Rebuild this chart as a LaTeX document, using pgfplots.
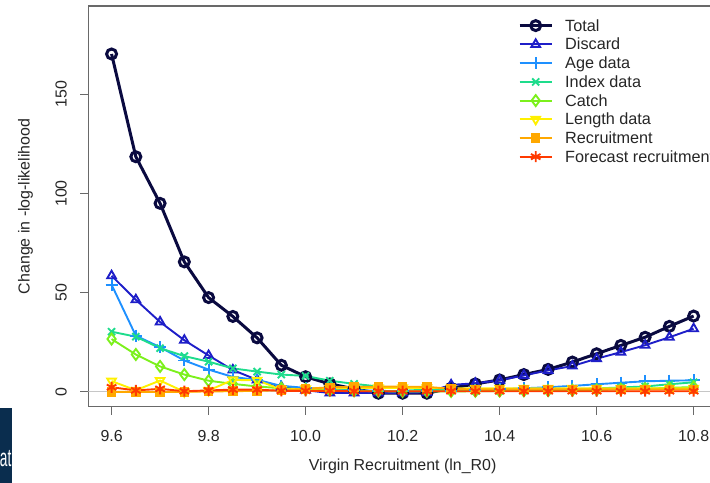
\documentclass[border=0pt]{standalone}
\usepackage{pgfplots}
\pgfplotsset{compat=1.18}
\usepackage{fontspec}
\setmainfont{Liberation Sans}
\definecolor{totalc}{RGB}{10,10,64}
\definecolor{discardc}{RGB}{30,30,200}
\definecolor{agec}{RGB}{30,144,255}
\definecolor{indexc}{RGB}{30,220,140}
\definecolor{catchc}{RGB}{124,240,28}
\definecolor{lengthc}{RGB}{255,240,0}
\definecolor{recc}{RGB}{255,168,0}
\definecolor{forec}{RGB}{255,58,0}
\definecolor{axisgray}{RGB}{105,105,105}
\definecolor{navybox}{RGB}{10,45,78}
\begin{document}
\begin{tikzpicture}[x=1bp,y=1bp]
\useasboundingbox (0,0) rectangle (710,483);
\clip (0,0) rectangle (710,483);
\fill[navybox] (0,0) rectangle (12,75);
\node[anchor=base east, inner sep=0pt, text=white, font=\fontsize{25}{25}\selectfont, xscale=0.55] at (11.5,16) {at};
\begin{axis}[
  at={(88.3bp,76.3bp)}, anchor=south west,
  scale only axis, width=628.6bp, height=400.7bp,
  xmin=9.552, xmax=10.848, ymin=-7.5, ymax=194.5,
  axis line style={draw=axisgray, line width=1.6bp},
  xtick={9.6,9.8,10.0,10.2,10.4,10.6,10.8},
  xticklabels={9.6,9.8,10.0,10.2,10.4,10.6,10.8},
  ytick={0,50,100,150},
  yticklabels={0,50,100,150},
  xtick pos=bottom, ytick pos=left,
  tick align=outside, major tick length=8bp,
  tick style={draw=axisgray, line width=1.3bp},
  tick label style={font=\fontsize{16}{19}\selectfont, text=black!85},
  xticklabel style={anchor=base, inner sep=0pt},
  yticklabel style={rotate=90, anchor=base, inner sep=0pt},
  xticklabel shift=27bp,
  yticklabel shift=13.6bp,
  xlabel={Virgin Recruitment (ln\_R0)},
  ylabel={Change in -log-likelihood},
  every axis x label/.style={at={(axis description cs:0.5,-0.158)}, anchor=base, font=\fontsize{16}{19}\selectfont, text=black!85},
  every axis y label/.style={at={(axis description cs:-0.0935,0.5)}, rotate=90, anchor=base, font=\fontsize{16}{19}\selectfont, text=black!85},
  legend style={draw=none, fill=none, at={(axis description cs:0.6836,0.966)}, anchor=north west,
    inner sep=0pt, row sep=4.4bp, font=\fontsize{16.3}{19}\selectfont,
    nodes={inner sep=0pt, text height=11.3bp, text depth=3bp, anchor=base west, text=black!85}},
  legend cell align=left,
  legend image code/.code={\draw[mark repeat=2,mark phase=2,#1] plot coordinates {(0bp,5.5bp) (16bp,5.5bp) (32bp,5.5bp)}; \path (0bp,5.5bp) (44bp,5.5bp);},
]
\addplot[gray!45, line width=1.2bp, forget plot] coordinates {(9.552,0) (10.848,0)};

\addplot[totalc, line width=3bp, mark=o, mark size=5bp] coordinates {
(9.6,170.3) (9.65,118.5) (9.7,95.0) (9.75,65.5) (9.8,47.5) (9.85,38.0) (9.9,27.2) (9.95,13.4) (10.0,7.6) (10.05,4.0) (10.1,1.5) (10.15,-0.7) (10.2,-0.7) (10.25,-0.7) (10.3,1.8) (10.35,4.0) (10.4,6.0) (10.45,8.7) (10.5,11.3) (10.55,15.0) (10.6,19.2) (10.65,23.4) (10.7,27.5) (10.75,33.0) (10.8,38.2)};
\addlegendentry{Total}

\addplot[discardc, line width=1.9bp, mark=triangle, mark size=5bp] coordinates {
(9.6,58.5) (9.65,46.4) (9.7,35.2) (9.75,26.0) (9.8,18.3) (9.85,11.0) (9.9,6.0) (9.95,2.5) (10.0,0.8) (10.05,-0.6) (10.1,-0.5) (10.15,-0.5) (10.2,-0.5) (10.25,-0.3) (10.3,3.5) (10.35,4.3) (10.4,5.8) (10.45,8.3) (10.5,10.8) (10.55,13.0) (10.6,16.7) (10.65,20.0) (10.7,23.5) (10.75,27.5) (10.8,31.8)};
\addlegendentry{Discard}

\addplot[agec, line width=1.9bp, mark=+, mark size=6bp] coordinates {
(9.6,54.0) (9.65,28.3) (9.7,22.5) (9.75,15.8) (9.8,11.2) (9.85,7.5) (9.9,6.0) (9.95,3.0) (10.0,2.0) (10.05,1.2) (10.1,0.8) (10.15,0.5) (10.2,0.3) (10.25,0.3) (10.3,0.5) (10.35,0.8) (10.4,1.3) (10.45,1.8) (10.5,2.3) (10.55,3.0) (10.6,3.8) (10.65,4.6) (10.7,5.3) (10.75,5.6) (10.8,5.8)};
\addlegendentry{Age data}

\addplot[indexc, line width=1.9bp, mark=x, mark size=5bp] coordinates {
(9.6,30.3) (9.65,27.8) (9.7,22.0) (9.75,18.0) (9.8,15.2) (9.85,11.8) (9.9,10.2) (9.95,8.7) (10.0,8.0) (10.05,5.6) (10.1,4.0) (10.15,2.7) (10.2,1.8) (10.25,1.2) (10.3,0.8) (10.35,0.6) (10.4,0.6) (10.45,0.7) (10.5,0.9) (10.55,1.3) (10.6,1.7) (10.65,2.2) (10.7,2.7) (10.75,3.8) (10.8,4.8)};
\addlegendentry{Index data}

\addplot[catchc, line width=1.9bp, mark=diamond, mark size=5.5bp] coordinates {
(9.6,26.6) (9.65,18.8) (9.7,12.8) (9.75,8.7) (9.8,5.6) (9.85,4.0) (9.9,2.7) (9.95,1.8) (10.0,1.2) (10.05,0.8) (10.1,0.5) (10.15,0.3) (10.2,0.2) (10.25,0.2) (10.3,0.2) (10.35,0.3) (10.4,0.4) (10.45,0.5) (10.5,0.6) (10.55,0.8) (10.6,1.0) (10.65,1.3) (10.7,1.6) (10.75,2.0) (10.8,2.4)};
\addlegendentry{Catch}

\addplot[lengthc, line width=1.9bp, mark=triangle, mark size=5bp, mark options={rotate=180}] coordinates {
(9.6,5.4) (9.65,0.8) (9.7,5.7) (9.75,0.0) (9.8,0.7) (9.85,6.0) (9.9,5.8) (9.95,1.2) (10.0,1.5) (10.05,1.8) (10.1,2.0) (10.15,2.0) (10.2,2.0) (10.25,2.0) (10.3,1.8) (10.35,1.8) (10.4,1.8) (10.45,1.8) (10.5,1.8) (10.55,1.8) (10.6,1.8) (10.65,1.8) (10.7,1.8) (10.75,1.8) (10.8,1.8)};
\addlegendentry{Length data}

\addplot[recc, line width=1.9bp, mark=square*, mark size=3.8bp] coordinates {
(9.6,0.0) (9.65,0.0) (9.7,0.0) (9.75,0.0) (9.8,0.2) (9.85,0.3) (9.9,0.5) (9.95,0.8) (10.0,1.5) (10.05,2.3) (10.1,2.5) (10.15,2.6) (10.2,2.6) (10.25,2.5) (10.3,1.5) (10.35,1.2) (10.4,1.2) (10.45,1.2) (10.5,1.2) (10.55,1.2) (10.6,1.2) (10.65,1.2) (10.7,1.2) (10.75,1.2) (10.8,1.2)};
\addlegendentry{Recruitment}

\addplot[forec, line width=1.9bp, mark=asterisk, mark size=5.5bp] coordinates {
(9.6,2.3) (9.65,0.7) (9.7,1.5) (9.75,0.3) (9.8,0.7) (9.85,1.1) (9.9,1.1) (9.95,0.5) (10.0,0.5) (10.05,0.5) (10.1,0.3) (10.15,0.3) (10.2,0.3) (10.25,0.3) (10.3,0.3) (10.35,0.3) (10.4,0.3) (10.45,0.3) (10.5,0.3) (10.55,0.3) (10.6,0.3) (10.65,0.3) (10.7,0.3) (10.75,0.3) (10.8,0.3)};
\addlegendentry{Forecast recruitment}
\end{axis}
\end{tikzpicture}
\end{document}
